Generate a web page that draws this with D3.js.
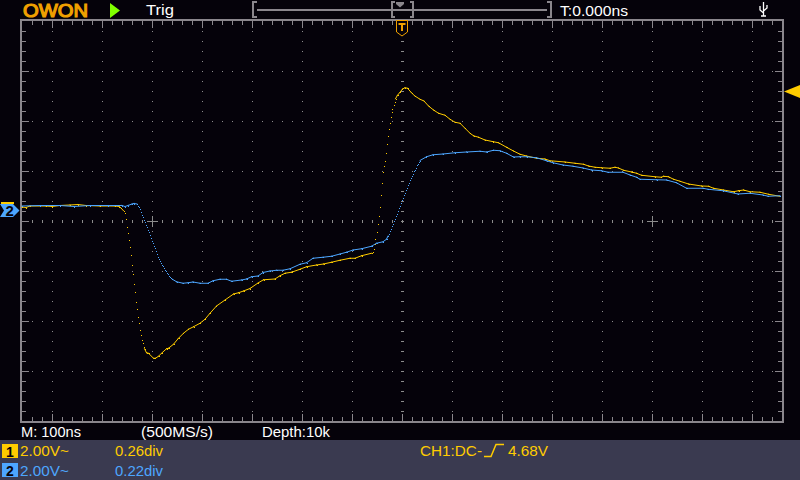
<!DOCTYPE html>
<html>
<head>
<meta charset="utf-8">
<script src="https://cdn.jsdelivr.net/npm/d3@7"></script>
<style>
  html, body { margin: 0; padding: 0; background: #05020a; }
  svg { display: block; }
  text { font-family: "Liberation Sans", sans-serif; }
</style>
</head>
<body>
<svg id="scope"></svg>
<script>
// CH1 samples, ns from the trigger point and volts from screen centre
const ch1Time = [-760,-752,-744,-712,-700,-684,-664,-648,-632,-604,-574,-566,-562,
  -557,-555,-553,-551,-549,-547,-545,-543,-541,-539,-537,-535,-533,-531,-529,-527,-525,-523,-521,-519,-517,-515,
  -511,-507,-497,-493,-487,-481,-471,-467,-457,-447,-437,-427,-417,-404,-394,-384,-371,-354,-337,-327,-317,-304,-288,-277,-254,-244,-234,-221,-204,-191,-171,-157,-141,-124,-104,-94,-81,-61,
  -59,-57,-55,-53,-51,-49,-47,-45,-43,-41,-39,-37,-35,-33,-31,-29,-27,-25,-23,-21,-19,-17,-15,-13,
  -9,-4,1,6,11,19,25,36,44,53,63,73,86,96,106,116,126,136,143,153,166,183,193,209,223,236,249,269,286,296,326,346,363,373,386,399,416,426,433,443,459,469,479,506,519,523,533,543,556,573,599,613,623,643,663,673,683,696,716,733,755];
const ch1Volts = [.56,.54,.60,.60,.58,.62,.64,.66,.62,.60,.60,.58,.52,
  .41,.31,.07,-.23,-.49,-.77,-1.05,-1.37,-1.77,-2.13,-2.53,-2.85,-3.23,-3.53,-3.85,-4.09,-4.37,-4.57,-4.77,-4.89,-5.03,-5.11,
  -5.27,-5.29,-5.49,-5.49,-5.41,-5.29,-5.11,-5.09,-4.93,-4.69,-4.49,-4.33,-4.23,-4.09,-3.93,-3.69,-3.40,-3.16,-2.92,-2.87,-2.80,-2.70,-2.48,-2.35,-2.32,-2.19,-2.09,-2.05,-1.93,-1.83,-1.76,-1.72,-1.65,-1.57,-1.49,-1.49,-1.39,-1.29,
  -1.23,-1.13,-.93,-.73,-.43,-.13,.20,.56,1.04,1.52,1.96,2.20,2.39,2.71,3.07,3.40,3.67,3.91,4.15,4.35,4.47,4.64,4.76,4.89,
  5.03,5.15,5.28,5.33,5.31,5.13,5.01,4.87,4.80,4.60,4.44,4.31,4.23,4.07,3.95,3.91,3.71,3.51,3.41,3.35,3.24,3.17,3.13,2.95,2.80,2.67,2.60,2.51,2.48,2.41,2.36,2.31,2.27,2.20,2.15,2.13,2.11,2.15,2.12,2.03,1.96,1.91,1.83,1.77,1.75,1.79,1.77,1.67,1.59,1.48,1.40,1.39,1.31,1.24,1.17,1.21,1.24,1.17,1.15,1.07,.99];

// CH2 samples
const ch2Time = [-760,-724,-684,-656,-624,-588,-560,-554,-548,-540,-536,-530,-528,
  -526,-524,-522,-520,-518,-516,-514,-512,-510,-508,-506,-504,-502,-500,-498,-496,-494,-492,-490,-488,-486,-484,-482,-480,-478,-476,-474,-472,-470,-468,-466,-464,-462,-460,
  -451,-438,-428,-418,-404,-388,-378,-364,-351,-341,-321,-311,-301,-288,-278,-264,-251,-238,-224,-204,-191,-178,-158,-141,-124,-111,-98,-81,-61,-51,-38,-31,
  -28,-26,-24,-22,-20,-18,-16,-14,-12,-10,-8,-6,-4,-2,0,2,4,6,8,10,12,14,16,18,20,22,24,26,28,30,32,34,36,
  49,62,82,106,129,156,169,183,196,209,223,236,249,269,289,302,322,342,362,379,399,412,442,456,469,476,509,529,549,569,602,612,642,672,696,722,732,756];
const ch2Volts = [.60,.62,.62,.58,.62,.62,.62,.58,.62,.68,.70,.68,.62,
  .56,.46,.36,.26,.16,.06,-.04,-.14,-.24,-.34,-.44,-.56,-.68,-.78,-.88,-.98,-1.08,-1.20,-1.32,-1.42,-1.50,-1.58,-1.66,-1.74,-1.80,-1.88,-1.94,-2.00,-2.06,-2.12,-2.18,-2.24,-2.28,-2.32,
  -2.43,-2.49,-2.47,-2.44,-2.49,-2.49,-2.39,-2.33,-2.33,-2.41,-2.36,-2.32,-2.23,-2.20,-2.06,-2.00,-1.97,-1.97,-1.91,-1.73,-1.67,-1.49,-1.45,-1.41,-1.32,-1.25,-1.16,-1.11,-1.01,-.89,-.83,-.73,
  -.60,-.50,-.40,-.30,-.20,-.10,0,.10,.20,.30,.40,.52,.62,.72,.84,.94,1.04,1.14,1.24,1.34,1.44,1.54,1.64,1.72,1.80,1.90,1.98,2.06,2.14,2.22,2.30,2.36,2.42,
  2.57,2.65,2.68,2.73,2.76,2.79,2.76,2.83,2.81,2.71,2.56,2.57,2.57,2.53,2.41,2.33,2.24,2.19,2.12,2.04,2.01,1.95,1.95,1.84,1.75,1.67,1.65,1.64,1.53,1.31,1.31,1.27,1.21,1.08,1.11,1.04,.99,1.01];

const timeMinorTicks = d3.range(-740, 741, 20);
const timeMajorTicks = d3.range(-700, 701, 100);
const voltMinorTicks = d3.range(-7.6, 7.61, 0.4);
const voltMajorTicks = d3.range(-6, 6.1, 2);
const crossTimes = [-500, 500];

const width = 800;
const height = 480;
const yellow = "#ffcc00";
const blue = "#4da6ff";
const orange = "#f0a000";
const frameColor = "#8a868c";

const svg = d3.select("#scope").attr("width", width).attr("height", height);

const x = d3.scaleLinear().domain([-760, 760]).range([22, 782]);
const y = d3.scaleLinear().domain([-8, 8]).range([421, 21]);

svg.append("rect").attr("width", width).attr("height", height).attr("fill", "#05020a");

// Status panel at the bottom
svg.append("rect").attr("y", 440).attr("width", width).attr("height", 40).attr("fill", "#3a3a50");

const isMajorTime = (t) => Math.abs(t % 100) < 0.01;
const isMajorVolt = (v) => Math.abs(Math.round(v / 2) * 2 - v) < 0.01;

// Grid dots
const grid = svg.append("g").attr("shape-rendering", "crispEdges").attr("fill", "#8c8c8c");
timeMajorTicks.filter((t) => t !== 0).forEach((t) => {
  grid.selectAll(null).data(voltMinorTicks).enter().append("rect")
    .attr("x", x(t)).attr("y", (v) => Math.round(y(v))).attr("width", 1).attr("height", 1);
});
voltMajorTicks.filter((v) => Math.abs(v) > 0.01).forEach((v) => {
  grid.selectAll(null).data(timeMinorTicks).enter().append("rect")
    .attr("x", (t) => x(t)).attr("y", Math.round(y(v))).attr("width", 1).attr("height", 1);
});

// Centre axes
const centre = svg.append("g").attr("shape-rendering", "crispEdges").attr("fill", "#8c8c8c");
centre.selectAll(null).data(voltMinorTicks).enter().append("rect")
  .attr("x", x(0) - 1).attr("y", (v) => Math.round(y(v))).attr("width", 3).attr("height", 1);
centre.selectAll(null).data(timeMinorTicks).enter().append("rect")
  .attr("x", (t) => x(t)).attr("y", y(0) - 1).attr("width", 1).attr("height", 3);
crossTimes.forEach((t) => {
  centre.append("rect").attr("x", x(t) - 5).attr("y", y(0)).attr("width", 11).attr("height", 1);
  centre.append("rect").attr("x", x(t)).attr("y", y(0) - 5).attr("width", 1).attr("height", 11);
});

// Frame and its ticks
const frame = svg.append("g").attr("shape-rendering", "crispEdges").attr("fill", frameColor);
frame.append("rect").attr("x", 20).attr("y", 19).attr("width", 764).attr("height", 2);
frame.append("rect").attr("x", 20).attr("y", 421).attr("width", 764).attr("height", 2);
frame.append("rect").attr("x", 20).attr("y", 19).attr("width", 2).attr("height", 404);
frame.append("rect").attr("x", 782).attr("y", 19).attr("width", 2).attr("height", 404);
const tickLen = (major) => (major ? 7 : 4);
frame.selectAll(null).data(timeMinorTicks).enter().append("rect")
  .attr("x", (t) => x(t)).attr("y", 21).attr("width", 1).attr("height", (t) => tickLen(isMajorTime(t)));
frame.selectAll(null).data(timeMinorTicks).enter().append("rect")
  .attr("x", (t) => x(t)).attr("y", (t) => 421 - tickLen(isMajorTime(t))).attr("width", 1)
  .attr("height", (t) => tickLen(isMajorTime(t)));
frame.selectAll(null).data(voltMinorTicks).enter().append("rect")
  .attr("x", 22).attr("y", (v) => Math.round(y(v))).attr("height", 1).attr("width", (v) => tickLen(isMajorVolt(v)));
frame.selectAll(null).data(voltMinorTicks).enter().append("rect")
  .attr("x", (v) => 782 - tickLen(isMajorVolt(v))).attr("y", (v) => Math.round(y(v))).attr("height", 1)
  .attr("width", (v) => tickLen(isMajorVolt(v)));

// Traces: samples 2ns apart stay separate dots, the rest is joined up
const drawTrace = (times, volts, color) => {
  const points = times.map((t, i) => [t, volts[i]]);
  const line = d3.line().x((d) => x(d[0])).y((d) => y(d[1]));
  const trace = svg.append("g");
  trace.selectAll("path")
    .data(d3.pairs(points).filter(([a, b]) => b[0] - a[0] > 2))
    .enter()
    .append("path")
    .attr("d", (d) => line(d))
    .attr("fill", "none")
    .attr("stroke", color)
    .attr("stroke-width", 1)
    .attr("stroke-linecap", "square");
  trace.selectAll("rect")
    .data(points)
    .enter()
    .append("rect")
    .attr("x", (d) => Math.round(x(d[0])))
    .attr("y", (d) => Math.round(y(d[1])))
    .attr("width", 1)
    .attr("height", 1)
    .attr("fill", color)
    .attr("shape-rendering", "crispEdges");
};
drawTrace(ch1Time, ch1Volts, yellow);
drawTrace(ch2Time, ch2Volts, blue);

// Header
svg.append("text").attr("x", 23).attr("y", 16.5).attr("textLength", 65).attr("lengthAdjust", "spacingAndGlyphs")
  .attr("font-size", 19).attr("fill", orange).attr("stroke", orange).attr("stroke-width", 1.2).text("OWON");
svg.append("path").attr("d", "M110,3L120,10.5L110,18Z").attr("fill", "#80ff00");

const label = (text, px, py, color, len) =>
  svg.append("text").attr("x", px).attr("y", py).attr("fill", color).attr("font-size", 15)
    .attr("textLength", len).attr("lengthAdjust", "spacingAndGlyphs").text(text);

label("Trig", 146, 15, "#ffffff", 28);
label("T:0.000ns", 560, 16, "#ffffff", 68);

// Memory position bar
const bar = svg.append("g").attr("fill", frameColor).attr("shape-rendering", "crispEdges");
bar.append("rect").attr("x", 257).attr("y", 9).attr("width", 290).attr("height", 2);
[[252, 1], [547, -1]].forEach(([bx, dir]) => {
  bar.append("rect").attr("x", dir > 0 ? bx : bx + 3).attr("y", 1).attr("width", 2).attr("height", 17);
  bar.append("rect").attr("x", bx).attr("y", 1).attr("width", 5).attr("height", 2);
  bar.append("rect").attr("x", bx).attr("y", 16).attr("width", 5).attr("height", 2);
});
[[391, 1], [410, -1]].forEach(([bx, dir]) => {
  bar.append("rect").attr("x", dir > 0 ? bx : bx + 2).attr("y", 1).attr("width", 2).attr("height", 17);
  bar.append("rect").attr("x", bx).attr("y", 1).attr("width", 4).attr("height", 2);
  bar.append("rect").attr("x", bx).attr("y", 16).attr("width", 4).attr("height", 2);
});
svg.append("path").attr("d", "M396,2L404,2L404,4L400,7.5L396,4Z").attr("fill", frameColor);

// Trigger position marker
svg.append("path").attr("d", "M396.5,20.5H407.5V32L402,36L396.5,32Z")
  .attr("fill", "#05020a").attr("stroke", orange).attr("stroke-width", 1);
svg.append("path").attr("d", "M398.5,24H405.5M402,24V31").attr("stroke", orange).attr("stroke-width", 2).attr("fill", "none");

// USB icon
svg.append("path").attr("d", "M763.5,2V16M761,16H766M760,6V10L763.5,13M767,5V8L763.5,11")
  .attr("stroke", "#ffffff").attr("stroke-width", 1.3).attr("fill", "none");

// Channel and trigger level markers
svg.append("rect").attr("x", 1).attr("y", 202).attr("width", 13).attr("height", 2).attr("fill", yellow);
svg.append("path").attr("d", "M0,204H13L19.5,210.5L13,217H0L4,210.5Z").attr("fill", blue);
svg.append("text").attr("x", 5.5).attr("y", 216).attr("font-size", 15).attr("font-weight", "bold")
  .attr("fill", "#05020a").text("2");
svg.append("path").attr("d", "M784,91.5L800,85V98Z").attr("fill", yellow);

// Readouts
label("M: 100ns", 21, 437, "#ffffff", 60);
label("(500MS/s)", 141, 437, "#ffffff", 72);
label("Depth:10k", 262, 437, "#ffffff", 68);

svg.append("rect").attr("x", 2).attr("y", 444).attr("width", 16).attr("height", 14).attr("fill", yellow);
svg.append("rect").attr("x", 2).attr("y", 463).attr("width", 16).attr("height", 14).attr("fill", blue);
[["1", 456.5], ["2", 475.5]].forEach(([n, py]) => {
  svg.append("text").attr("x", 6).attr("y", py).attr("font-size", 14).attr("font-weight", "bold")
    .attr("fill", "#05020a").text(n);
});
label("2.00V~", 20, 456, yellow, 49);
label("0.26div", 115, 456, yellow, 48);
label("2.00V~", 20, 476, blue, 49);
label("0.22div", 115, 476, blue, 48);
label("CH1:DC-", 420, 456, yellow, 62);
svg.append("path").attr("d", "M484,456.5H491L496,444.5H504").attr("fill", "none").attr("stroke", yellow).attr("stroke-width", 1.5);
label("4.68V", 508, 456, yellow, 40);
</script>
</body>
</html>
